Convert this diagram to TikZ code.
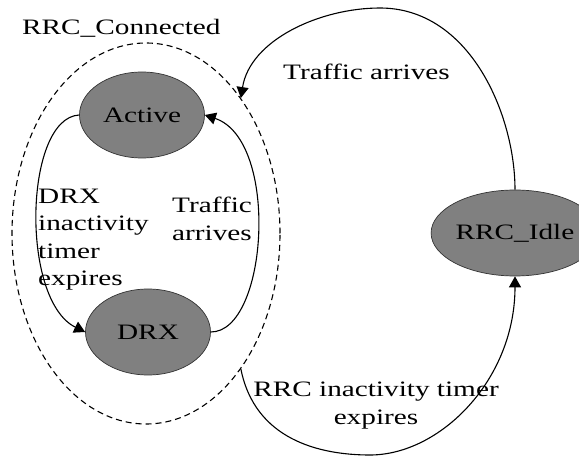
\documentclass[tikz,border=0pt]{standalone}
\usepackage{fontspec}
\setmainfont[FakeStretch=1.33]{Liberation Serif}
\usetikzlibrary{shapes.geometric,arrows.meta}
\definecolor{stategray}{RGB}{128,128,128}
\tikzset{
  state/.style={ellipse,draw=black!80,line width=0.7pt,fill=stategray,inner sep=0pt,
    minimum width=125pt,minimum height=86pt,font=\fontsize{22}{27.5}\selectfont},
  lbl/.style={inner sep=0pt,font=\fontsize{22}{27.5}\selectfont},
  edge/.style={line width=1.1pt,-{Triangle[length=11pt,width=12pt]}},
  group/.style={ellipse,draw,dashed,dash pattern=on 6pt off 4pt,line width=1.1pt,inner sep=0pt,
    minimum width=268pt,minimum height=381pt}
}
\begin{document}
\begin{tikzpicture}[x=1pt,y=-1pt]
\useasboundingbox (0,0) rectangle (579,457);
\node[group] (conn) at (146,233.5) {};
\node[state] (active) at (142,115) {Active};
\node[state] (drx) at (148,332) {DRX};
\node[state] (idle) at (515,233) {RRC\_Idle};
\node[lbl,anchor=base west] (lconn) at (22,35) {RRC\_Connected};
\node[lbl,anchor=base west] (ltop) at (283,80) {Traffic arrives};
\node[lbl,anchor=north west,align=left] (ldrx) at (38,188.5) {DRX\\inactivity\\timer\\expires};
\node[lbl,anchor=north west,align=left] (lta) at (172,197) {Traffic\\arrives};
\node[lbl,anchor=north,align=center] (lrrc) at (376,382) {RRC inactivity timer\\expires};
\draw[edge] (active.west) .. controls +(-55,3) and (20,300) .. (drx.west);
\draw[edge] (drx.east) .. controls (268,332) and (280,140) .. (active.east);
\draw[edge] (idle.north) .. controls (515,115) and (470,8) .. (380,8) coordinate (ptop)
  .. controls (320,8) and (250,40) .. (conn.55);
\draw[edge] (conn.-55) .. controls (255,440) and (320,455) .. (370,455) coordinate (pbot)
  .. controls (440,455) and (515,380) .. (idle.south);
\end{tikzpicture}
\end{document}
